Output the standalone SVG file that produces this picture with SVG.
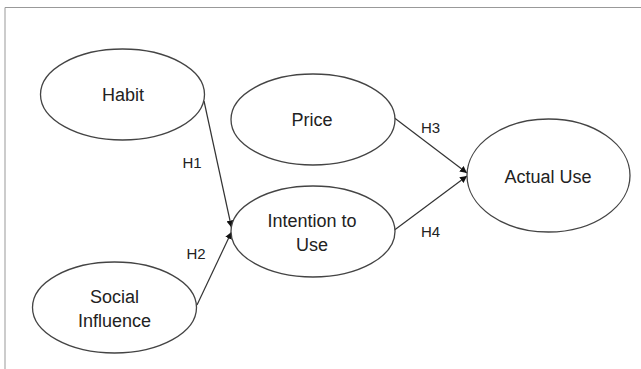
<svg xmlns="http://www.w3.org/2000/svg" width="641" height="369" viewBox="0 0 641 369">
<style>
.n{fill:#fff;stroke:#444;stroke-width:1.3}
.t{font-family:"Liberation Sans",Arial,sans-serif;font-size:18px;fill:#222;text-anchor:middle}
.h{font-family:"Liberation Sans",Arial,sans-serif;font-size:15px;fill:#222;text-anchor:middle}
.c{fill:none;stroke:#333;stroke-width:1.2;marker-end:url(#ah)}
</style>
<defs>
<marker id="ah" viewBox="0 0 10 10" refX="10" refY="5" markerWidth="7" markerHeight="7" markerUnits="userSpaceOnUse" orient="auto">
<path d="M0,0 L10,5 L0,10 z" fill="#111"/>
</marker>
</defs>
<rect x="0" y="0" width="641" height="369" fill="#fff"/>
<path d="M5,369 V7.5 H641" fill="none" stroke="#999" stroke-width="1"/>
<g id="connectors">
<line class="c" x1="204" y1="101" x2="231.5" y2="227.5"/>
<line class="c" x1="197" y1="305" x2="231.5" y2="232"/>
<line class="c" x1="394.5" y1="118" x2="467" y2="173"/>
<line class="c" x1="394.5" y1="230" x2="467" y2="176"/>
<text class="h" x="192" y="168">H1</text>
<text class="h" x="196" y="259">H2</text>
<text class="h" x="430.5" y="133">H3</text>
<text class="h" x="430.5" y="237">H4</text>
</g>
<g id="habit">
<ellipse class="n" cx="122.5" cy="94.5" rx="82" ry="45.5"/>
<text class="t" x="123" y="101">Habit</text>
</g>
<g id="price">
<ellipse class="n" cx="313" cy="119.5" rx="82" ry="45.5"/>
<text class="t" x="312" y="126">Price</text>
</g>
<g id="intention">
<ellipse class="n" cx="313" cy="231.5" rx="82" ry="45.5"/>
<text class="t" x="312" y="227">Intention to</text>
<text class="t" x="312" y="251">Use</text>
</g>
<g id="actual">
<ellipse class="n" cx="548.5" cy="175.5" rx="81.5" ry="56.5"/>
<text class="t" x="548" y="183">Actual Use</text>
</g>
<g id="social">
<ellipse class="n" cx="114.5" cy="307.5" rx="82" ry="45.5"/>
<text class="t" x="114.5" y="303">Social</text>
<text class="t" x="114.5" y="327">Influence</text>
</g>
</svg>
